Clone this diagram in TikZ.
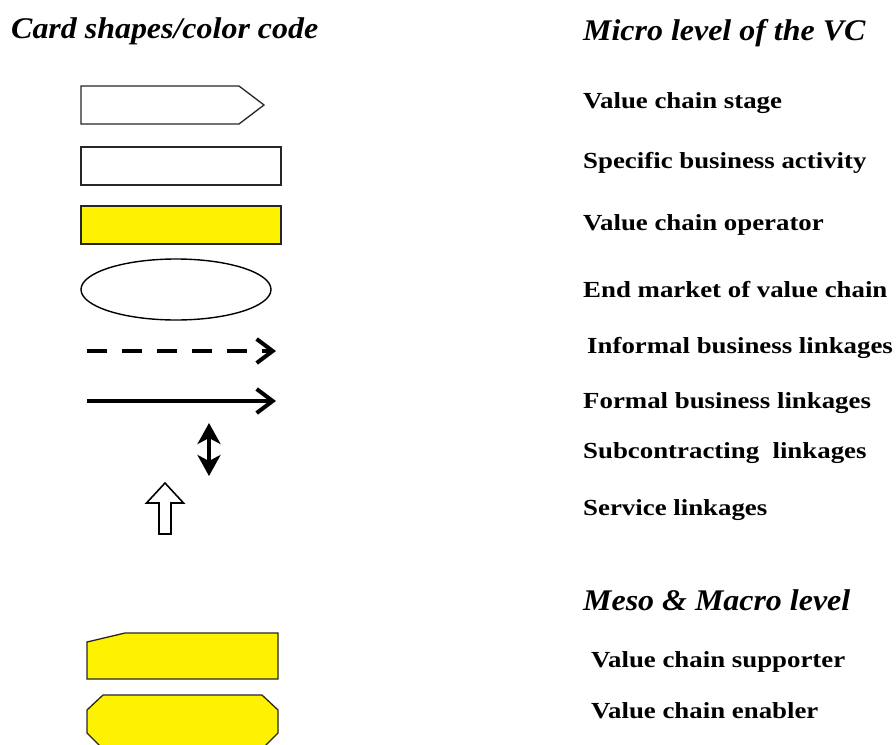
\documentclass[tikz,border=0pt]{standalone}
\usepackage{fontspec}
\setmainfont{Liberation Serif}
\newfontfamily\labfont[FakeStretch=1.167]{Liberation Serif}
\newfontfamily\headfont[FakeStretch=1.065]{Liberation Serif}
\usetikzlibrary{arrows.meta}
\tikzset{
  card/.style={draw=black!85,line width=1.3pt},
  yel/.style={card,fill=yellow},
  lab/.style={anchor=base west,inner sep=0pt,font=\labfont\fontsize{23}{25}\selectfont\bfseries},
  head/.style={anchor=base west,inner sep=0pt,font=\headfont\fontsize{30}{32}\selectfont\bfseries\itshape},
  link/.style={line width=4pt,-{Straight Barb[length=16pt,width=24pt,line width=4pt]}},
  dlink/.style={line width=4pt,{Stealth[length=21pt,width=23pt,inset=6pt]}-{Stealth[length=21pt,width=23pt,inset=6pt]}}
}
\begin{document}
\begin{tikzpicture}[x=1pt,y=-1pt]
\useasboundingbox (0,0) rectangle (896,744);
\clip (0,0) rectangle (896,744);
% headings
\node[head] (h1) at (11,38.5) {Card shapes/color code};
\node[head] (h2) at (583,40) {Micro level of the VC};
\node[head] (h3) at (583,610) {Meso \& Macro level};
% labels
\node[lab] (l1) at (583,108) {Value chain stage};
\node[lab] (l2) at (583,168) {Specific business activity};
\node[lab] (l3) at (583,230) {Value chain operator};
\node[lab] (l4) at (583,297) {End market of value chain};
\node[lab] (l5) at (587,353) {Informal business linkages};
\node[lab] (l6) at (583,408) {Formal business linkages};
\node[lab] (l7) at (583,458) {Subcontracting\ \ linkages};
\node[lab] (l8) at (583,515) {Service linkages};
\node[lab] (l9) at (591,667) {Value chain supporter};
\node[lab] (l10) at (591,718) {Value chain enabler};
% shapes
\draw[card,fill=white] (81,86) -- (239,86) -- (264,105) -- (239,124) -- (81,124) -- cycle;
\draw[card,fill=white] (81,147) rectangle (281,185);
\draw[yel] (81,206) rectangle (281,244);
\draw[line width=1.4pt] (176,289.5) ellipse [x radius=95, y radius=30.5];
% linkages
\coordinate (d1) at (87,351); \coordinate (d2) at (276,351);
\draw[link,dash pattern=on 20pt off 15pt] (d1) -- (d2);
\coordinate (f1) at (87,401); \coordinate (f2) at (276,401);
\draw[link] (f1) -- (f2);
\coordinate (s1) at (209,423); \coordinate (s2) at (209,476);
\draw[dlink] (s1) -- (s2);
\draw[line width=1.6pt,fill=white] (165,483) -- (183.5,503) -- (171,503) -- (171,534) -- (159,534) -- (159,503) -- (146.5,503) -- cycle;
% meso / macro cards
\draw[yel] (87,642) -- (125,633) -- (278,633) -- (278,679) -- (87,679) -- cycle;
\draw[yel] (103,695) -- (262,695) -- (278,710) -- (278,733) -- (262,749) -- (103,749) -- (87,733) -- (87,710) -- cycle;
\end{tikzpicture}
\end{document}
